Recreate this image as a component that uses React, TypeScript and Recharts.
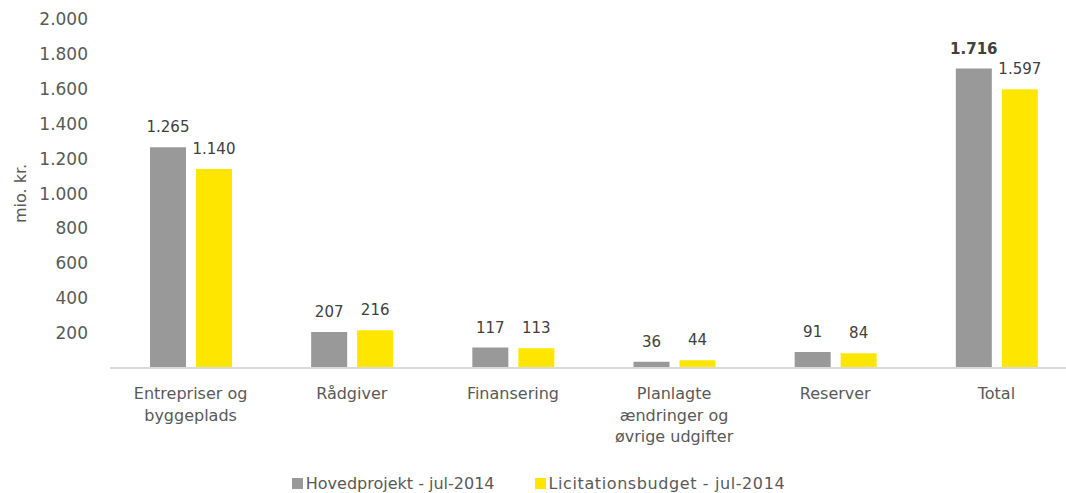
import { BarChart, Bar, XAxis, YAxis, Legend, LabelList, Label } from 'recharts';

const categories = [
  'Entrepriser og\nbyggeplads',
  'Rådgiver',
  'Finansering',
  'Planlagte\nændringer og\nøvrige udgifter',
  'Reserver',
  'Total',
];
const hovedprojekt = [1265, 207, 117, 36, 91, 1716];
const licitation = [1140, 216, 113, 44, 84, 1597];
const yTicks = [200, 400, 600, 800, 1000, 1200, 1400, 1600, 1800, 2000];
const seriesNames = ['Hovedprojekt - jul-2014', 'Licitationsbudget - jul-2014'];
const seriesColors = ['#999999', '#FFE600'];

const data = categories.map((name, i) => ({
  name,
  hoved: hovedprojekt[i],
  licit: licitation[i],
}));

const FONT = '"DejaVu Sans", sans-serif';
const fmt = (v: number) => String(v).replace(/\B(?=(\d{3})+(?!\d))/g, '.');

function CategoryTick(props: any) {
  const { x, y, payload } = props;
  const lines = String(payload.value).split('\n');
  return (
    <text x={x} y={y + 23} textAnchor="middle" fill="#595959" fontSize={16} fontFamily={FONT}>
      {lines.map((l, i) => (
        <tspan key={i} x={x} dy={i === 0 ? 0 : 21.5}>
          {l}
        </tspan>
      ))}
    </text>
  );
}

function makeLabel(bold: boolean) {
  return (props: any) => {
    const { x, y, width, value, index } = props;
    return (
      <text
        x={Number(x) + Number(width) / 2}
        y={Number(y) - 15}
        textAnchor="middle"
        fill="#404040"
        fontSize={15}
        fontFamily={FONT}
        fontWeight={bold && index === categories.length - 1 ? 'bold' : 'normal'}
      >
        {fmt(value)}
      </text>
    );
  };
}

function YLabel(props: any) {
  const vb = props.viewBox || {};
  const cy = (vb.y ?? 19) + (vb.height ?? 349) / 2;
  return (
    <text
      x={20}
      y={cy}
      transform={`rotate(-90 20 ${cy})`}
      textAnchor="middle"
      dominantBaseline="central"
      fill="#595959"
      fontSize={16}
      fontFamily={FONT}
    >
      mio. kr.
    </text>
  );
}

function LegendContent() {
  return (
    <div style={{ height: 40, display: 'flex', justifyContent: 'center', fontFamily: FONT }}>
      {seriesNames.map((n, i) => (
        <div
          key={n}
          style={{
            display: 'flex',
            alignItems: 'center',
            marginTop: 20,
            height: 20,
            marginLeft: i === 0 ? 0 : 40,
          }}
        >
          <span style={{ width: 11, height: 11, background: seriesColors[i], display: 'inline-block', marginRight: 3 }} />
          <span style={{ fontSize: 16, color: '#595959', letterSpacing: i === 1 ? 0.6 : 0 }}>{n}</span>
        </div>
      ))}
    </div>
  );
}

export default function App() {
  return (
    <div style={{ position: 'fixed', left: 0, top: 0, width: 1066, height: 493, overflow: 'hidden', background: '#fff' }}>
      <BarChart
        width={1080}
        height={493}
        data={data}
        margin={{ top: 19, right: 3, left: 0, bottom: 0 }}
        barSize={36}
        barGap={10}
        style={{ fontFamily: FONT }}
      >
        <XAxis
          dataKey="name"
          interval={0}
          height={85}
          tickLine={false}
          axisLine={{ stroke: '#d9d9d9', strokeWidth: 2 }}
          tick={<CategoryTick />}
        />
        <YAxis
          width={110}
          domain={[0, 2000]}
          ticks={yTicks}
          axisLine={false}
          tickLine={false}
          tickMargin={16}
          tickFormatter={fmt}
          tick={{ fill: '#595959', fontSize: 17, fontFamily: FONT }}
        >
          <Label content={<YLabel />} />
        </YAxis>
        <Legend verticalAlign="bottom" content={<LegendContent />} />
        <Bar dataKey="hoved" name={seriesNames[0]} fill={seriesColors[0]} isAnimationActive={false}>
          <LabelList dataKey="hoved" content={makeLabel(true)} />
        </Bar>
        <Bar dataKey="licit" name={seriesNames[1]} fill={seriesColors[1]} isAnimationActive={false}>
          <LabelList dataKey="licit" content={makeLabel(false)} />
        </Bar>
      </BarChart>
    </div>
  );
}
